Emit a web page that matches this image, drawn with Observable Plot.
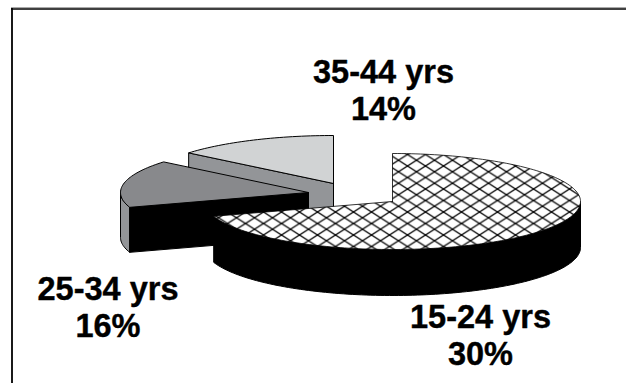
<!DOCTYPE html>
<html>
<head>
<meta charset="utf-8">
<script src="https://cdn.jsdelivr.net/npm/d3@7"></script>
<script src="https://cdn.jsdelivr.net/npm/@observablehq/plot@0.6"></script>
<style>
html,body{margin:0;padding:0;background:#fff;overflow:hidden}
svg{display:block}
</style>
</head>
<body>
<div id="chart"></div>
<script>
const ageGroups = ["15-24 yrs", "25-34 yrs", "35-44 yrs"];
const sliceShares = [70, 16, 14];
const printedPercents = [30, 16, 14];

const W = 626, H = 383;
const rx = 188, ry = 48;
const apexX = [392, 308, 333];
const apexY = [201, 192, 183];
const depth = [46, 45, 45];
const labelX = [480, 107.5, 383];
const labelY = [334.5, 306.5, 89.5];

const pie = d3.pie().sort(null).value(d => d)(sliceShares);

function rimPoint(i, t, dz = 0) {
  return {x: apexX[i] + rx * Math.sin(t), y: apexY[i] - ry * Math.cos(t) + dz};
}
function arcPoints(i, a, b, dz = 0) {
  const n = Math.max(2, Math.ceil(Math.abs(b - a) * 40));
  return d3.range(n + 1).map(k => rimPoint(i, a + (b - a) * k / n, dz));
}
function closed(pts) { return [...pts, pts[0]]; }
function topFace(i) {
  const apex = {x: apexX[i], y: apexY[i]};
  return closed([apex, ...arcPoints(i, pie[i].startAngle, pie[i].endAngle)]);
}
function rimFace(i, a, b) {
  return closed([...arcPoints(i, a, b), ...arcPoints(i, b, a, depth[i])]);
}
function cutFace(i, t) {
  const d = depth[i];
  const p = rimPoint(i, t), q = rimPoint(i, t, d);
  return closed([{x: apexX[i], y: apexY[i]}, p, q, {x: apexX[i], y: apexY[i] + d}]);
}
function face(points, fill, strokeWidth = 1) {
  return Plot.line(points, {x: "x", y: "y", fill, stroke: "#000", strokeWidth, curve: "linear"});
}

const defs = () => d3.create("svg:defs").html(`
  <pattern id="hatch" patternUnits="userSpaceOnUse" width="18" height="11.5" x="443" y="200">
    <rect width="18" height="11.5" fill="#fff"></rect>
    <path d="M0,0L18,11.5M0,11.5L18,0" stroke="#000" stroke-width="1.3" fill="none"></path>
  </pattern>`).node();

const chart = Plot.plot({
  width: W, height: H,
  margin: 0,
  style: {background: "#fff"},
  x: {domain: [0, W], range: [0, W], axis: null},
  y: {domain: [0, H], range: [0, H], axis: null},
  marks: [
    defs,
    Plot.ruleY([7], {stroke: "#aaa", strokeWidth: 1, x1: 11, x2: W}),
    Plot.ruleY([8.5], {stroke: "#000", strokeWidth: 1.6, x1: 11, x2: W}),
    Plot.ruleX([11.5], {stroke: "#000", strokeWidth: 1.8, y1: 8, y2: H}),
    face(cutFace(2, pie[2].startAngle), "#939598"),
    face(topFace(2), "#d1d3d4"),
    face(rimFace(1, pie[1].startAngle, 1.5 * Math.PI), "#939598"),
    face(cutFace(1, pie[1].startAngle), "#000"),
    face(topFace(1), "#88898c"),
    face(rimFace(0, Math.PI / 2, pie[0].endAngle), "#000"),
    face(topFace(0), "url(#hatch)", 0.8),
    Plot.text(ageGroups.map((g, i) => ({text: `${g}\n${printedPercents[i]}%`, x: labelX[i], y: labelY[i]})), {
      x: "x", y: "y", text: "text",
      fontFamily: "Liberation Sans", fontWeight: "bold", fontSize: 32.5,
      lineHeight: 1.14, textAnchor: "middle", fill: "#000", stroke: "#000", strokeWidth: 0.4
    })
  ]
});
document.getElementById("chart").append(chart);
</script>
</body>
</html>
